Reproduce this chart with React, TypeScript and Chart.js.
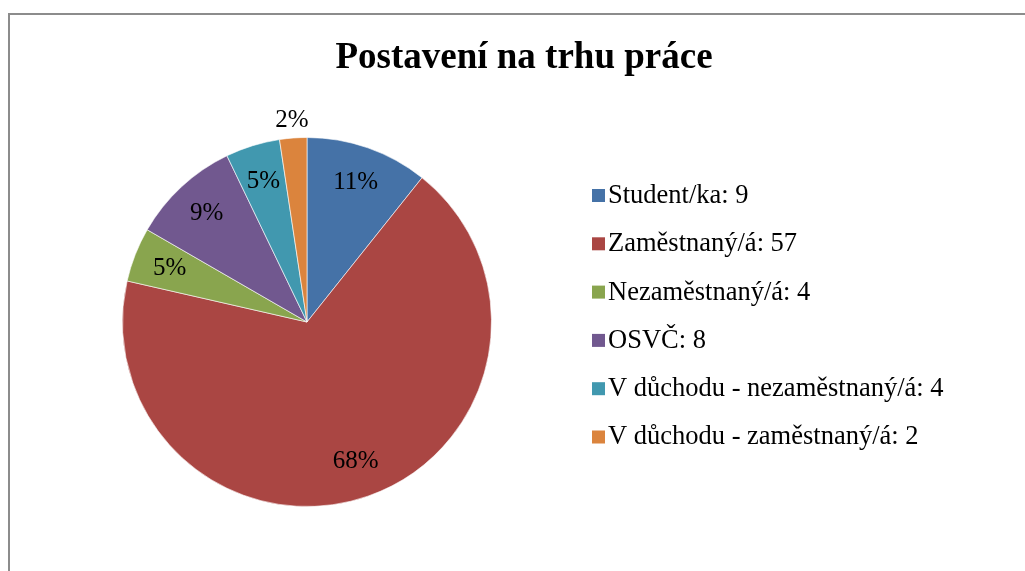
import React, { useEffect, useRef } from "react";
import { Chart, registerables } from "chart.js";

Chart.register(...registerables);

const titleText = "Postavení na trhu práce";
const categories = [
  "Student/ka",
  "Zaměstnaný/á",
  "Nezaměstnaný/á",
  "OSVČ",
  "V důchodu - nezaměstnaný/á",
  "V důchodu - zaměstnaný/á",
];
const counts = [9, 57, 4, 8, 4, 2];
const percentLabels = ["11%", "68%", "5%", "9%", "5%", "2%"];
const colors = ["#4572A7", "#AA4643", "#89A54E", "#71588F", "#4198AF", "#DB843D"];

const FONT = "'Liberation Serif', 'Times New Roman', serif";

const decorPlugin = {
  id: "decor",
  beforeDraw(chart: any) {
    const ctx = chart.ctx;
    ctx.save();
    ctx.strokeStyle = "#8c8c8c";
    ctx.lineWidth = 2;
    ctx.beginPath();
    ctx.moveTo(9, 590);
    ctx.lineTo(9, 14);
    ctx.lineTo(1030, 14);
    ctx.stroke();
    ctx.fillStyle = "#000";
    ctx.font = `bold 37px ${FONT}`;
    ctx.textAlign = "center";
    ctx.textBaseline = "middle";
    ctx.fillText(titleText, 524, 58);
    ctx.restore();
  },
  afterDatasetsDraw(chart: any) {
    const ctx = chart.ctx;
    const meta = chart.getDatasetMeta(0);
    ctx.save();
    ctx.font = `25px ${FONT}`;
    ctx.fillStyle = "#000";
    ctx.textAlign = "center";
    ctx.textBaseline = "middle";
    meta.data.forEach((arc: any, i: number) => {
      const p = arc.getProps(["x", "y", "startAngle", "endAngle", "outerRadius"], true);
      const mid = (p.startAngle + p.endAngle) / 2;
      const frac = (p.endAngle - p.startAngle) / (2 * Math.PI);
      const r = frac < 0.03 ? p.outerRadius + 18 : p.outerRadius * 0.8;
      ctx.fillText(percentLabels[i], p.x + Math.cos(mid) * r, p.y + Math.sin(mid) * r);
    });
    // legend
    const lx = 592;
    const ly0 = 195;
    const step = 48.3;
    ctx.font = `26.5px ${FONT}`;
    categories.forEach((c, i) => {
      const y = ly0 + i * step;
      ctx.fillStyle = colors[i];
      ctx.fillRect(lx, y - 6, 13, 13);
      ctx.fillStyle = "#000";
      ctx.textAlign = "left";
      ctx.fillText(`${c}: ${counts[i]}`, lx + 16, y + 1);
    });
    ctx.restore();
  },
};

export default function App() {
  const ref = useRef<HTMLCanvasElement>(null);
  useEffect(() => {
    if (!ref.current) return;
    const chart = new Chart(ref.current, {
      type: "pie",
      data: {
        labels: categories,
        datasets: [
          {
            data: counts,
            backgroundColor: colors,
            borderColor: "rgba(255,255,255,0.6)",
            borderWidth: 1,
          },
        ],
      },
      options: {
        animation: false,
        responsive: false,
        maintainAspectRatio: false,
        layout: { padding: { left: 122, right: 533, bottom: 64, top: 137 } },
        plugins: {
          legend: { display: false },
          tooltip: { enabled: false },
          title: { display: false },
        },
      },
      plugins: [decorPlugin],
    });
    return () => chart.destroy();
  }, []);
  return (
    <div style={{ position: "fixed", left: 0, top: 0, width: 1025, height: 571, background: "#fff" }}>
      <canvas ref={ref} width={1025} height={571} style={{ display: "block" }} />
    </div>
  );
}
